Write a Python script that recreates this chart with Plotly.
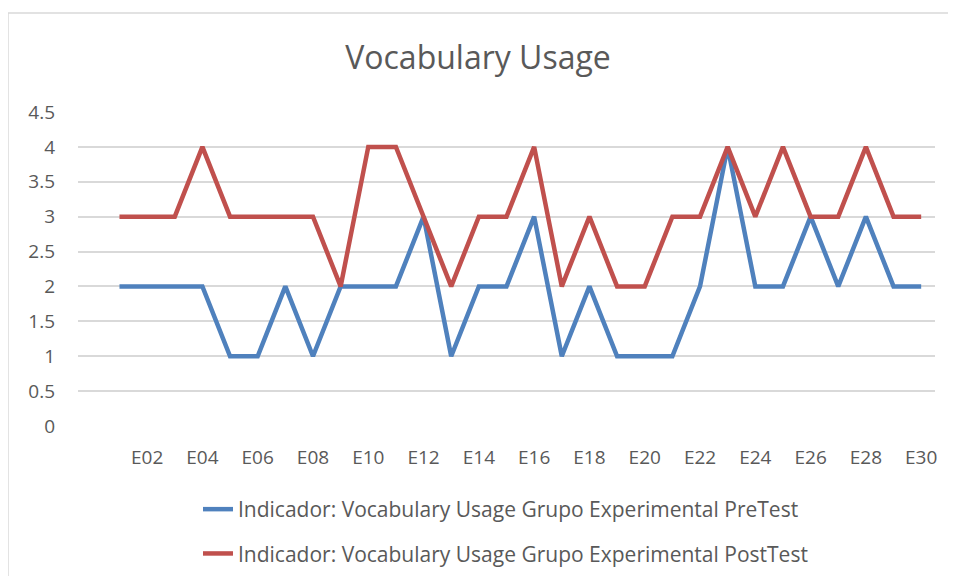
import plotly.graph_objects as go

categories = [f"E{i:02d}" for i in range(1, 31)]
pretest = [2, 2, 2, 2, 1, 1, 2, 1, 2, 2, 2, 3, 1, 2, 2, 3, 1, 2, 1, 1, 1, 2, 4, 2, 2, 3, 2, 3, 2, 2]
posttest = [3, 3, 3, 4, 3, 3, 3, 3, 2, 4, 4, 3, 2, 3, 3, 4, 2, 3, 2, 2, 3, 3, 4, 3, 4, 3, 3, 4, 3, 3]
tick_labels = categories[1::2]
series_names = [
    "Indicador: Vocabulary Usage Grupo Experimental PreTest",
    "Indicador: Vocabulary Usage Grupo Experimental PostTest",
]

xpos = list(range(1, len(categories) + 1))
tickvals = xpos[1::2]

W, H = 940, 568
fig = go.Figure()
fig.add_trace(go.Scatter(x=xpos, y=pretest, mode="lines", name=series_names[0], legendgroup="a",
                         line=dict(color="#4F81BD", width=4.5), hovertext=categories))
fig.add_trace(go.Scatter(x=xpos, y=posttest, mode="lines", name=series_names[1], legendgroup="b",
                         line=dict(color="#C0504D", width=4.5), hovertext=categories))

font_family = "Open Sans, Liberation Sans, sans-serif"
fig.update_layout(
    width=W, height=H,
    margin=dict(l=70, r=13, t=104, b=150, autoexpand=False),
    paper_bgcolor="white", plot_bgcolor="white",
    title=dict(text="Vocabulary Usage", x=0.5, xanchor="center", y=1 - 50 / H, yanchor="middle",
               font=dict(family=font_family, size=32, color="#595959")),
    xaxis=dict(range=[-0.5, 30.5], tickvals=tickvals, ticktext=tick_labels, automargin=False,
               showgrid=False, zeroline=False, showline=False, ticks="", ticklabelstandoff=18,
               tickfont=dict(family=font_family, size=19, color="#595959")),
    yaxis=dict(range=[0, 4.5], dtick=0.5, showgrid=True, gridcolor="#D9D9D9", gridwidth=1.5,
               zeroline=False, showline=False, ticks="", ticklabelstandoff=22, automargin=False,
               tickfont=dict(family=font_family, size=19, color="#595959")),
    legend=dict(orientation="v", x=0.14, xanchor="left", yref="container", y=1 - 481 / H,
                yanchor="top",
                font=dict(family=font_family, size=21, color="#595959"),
                tracegroupgap=14, traceorder="grouped", bgcolor="rgba(0,0,0,0)"),
    showlegend=True,
    shapes=[dict(type="rect", xref="paper", yref="paper", x0=-0.0817, x1=1.2, y0=-1.0, y1=1.315,
                 line=dict(color="#D9D9D9", width=1.5), layer="below")],
)
fig.write_html("out.html")
